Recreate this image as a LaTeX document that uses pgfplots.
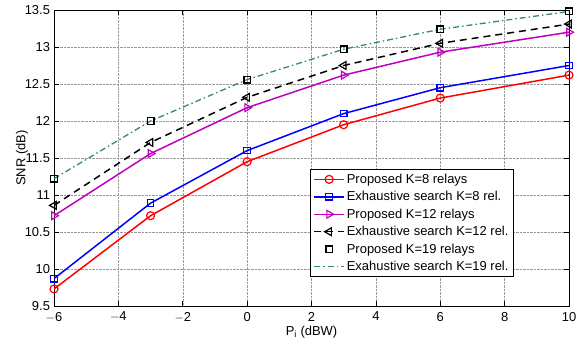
\documentclass[border=0pt]{standalone}
\usepackage{pgfplots}
\pgfplotsset{compat=1.18}
\usepackage{fontspec}
\setmainfont{Liberation Sans}
\definecolor{mgreen}{rgb}{0.18,0.55,0.40}
\definecolor{mmag}{rgb}{0.75,0,0.75}
\begin{document}
\begin{tikzpicture}
\begin{axis}[
  scale only axis,
  width=515bp, height=296bp,
  xmin=-6, xmax=10, ymin=9.5, ymax=13.5,
  xtick={-6,-4,...,10},
  ytick={9.5,10,...,13.5},
  yticklabels={9.5,10,10.5,11,11.5,12,12.5,13,13.5},
  xticklabels={$-$6,$-$4,$-$2,0,2,4,6,8,10},
  grid=major,
  grid style={densely dotted, gray!80, line width=0.5pt},
  tick align=inside,
  axis line style={line width=0.9pt},
  major tick length=5pt,
  every tick/.style={black, line width=0.6pt},
  ticklabel style={font=\fontsize{13}{15}\selectfont},
  xticklabel style={yshift=-2.5bp},
  yticklabel style={xshift=-0.5bp},
  /pgf/number format/assume math mode=true,
  xlabel={P\textsubscript{i} (dBW)},
  ylabel={SNR (dB)},
  label style={font=\fontsize{13}{15}\selectfont},
  xlabel style={at={(axis description cs:0.5,0)}, anchor=center, yshift=-26bp},
  ylabel style={at={(axis description cs:-0.0621,0.5)}, anchor=center},
  legend style={at={(0.893,0.098)}, anchor=south east, font=\fontsize{13}{14}\selectfont,
    draw=black, line width=0.9pt, inner xsep=3pt, inner ysep=2.5pt, row sep=2.6pt, cells={anchor=west}},
  legend cell align=left,
  legend image code/.code={\draw[mark repeat=2,mark phase=2] plot coordinates {(0bp,0bp) (15bp,0bp) (30bp,0bp)};},
]
\addplot[red, line width=1.5pt, mark=o, mark size=4pt, mark options={solid, line width=1.2pt}]
  coordinates {(-6,9.73) (-3,10.72) (0,11.45) (3,11.95) (6,12.31) (10,12.62)};
\addlegendentry{Proposed K=8 relays}
\addplot[blue, line width=1.5pt, mark=square, mark size=3.3pt, mark options={solid, line width=1.2pt}]
  coordinates {(-6,9.87) (-3,10.89) (0,11.60) (3,12.10) (6,12.45) (10,12.75)};
\addlegendentry{Exhaustive search K=8 rel.}
\addplot[mmag, line width=1.5pt, mark=triangle, mark size=4.5pt, mark options={solid, rotate=-90, line width=1.2pt}]
  coordinates {(-6,10.72) (-3,11.56) (0,12.18) (3,12.62) (6,12.93) (10,13.20)};
\addlegendentry{Proposed K=12 relays}
\addplot[black, line width=1.5pt, dash pattern=on 7pt off 5pt, mark=triangle, mark size=4.5pt, mark options={solid, rotate=90, line width=1.2pt}]
  coordinates {(-6,10.86) (-3,11.71) (0,12.32) (3,12.75) (6,13.05) (10,13.31)};
\addlegendentry{Exhaustive search K=12 rel.}
\addplot[black, only marks, mark=square, mark size=3.3pt, mark options={line width=1.4pt}]
  coordinates {(-6,11.22) (-3,12.00) (0,12.56) (3,12.97) (6,13.24) (10,13.48)};
\addlegendentry{Proposed K=19 relays}
\addplot[mgreen, line width=1.3pt, dash pattern=on 6pt off 3pt on 1.5pt off 3pt]
  coordinates {(-6,11.22) (-3,12.00) (0,12.56) (3,12.97) (6,13.24) (10,13.48)};
\addlegendentry{Exahustive search K=19 rel.}
\end{axis}
\pgfresetboundingbox
\path ([shift={(-54bp,-37bp)}]current axis.south west) rectangle ([shift={(8bp,10bp)}]current axis.north east);
\end{tikzpicture}
\end{document}
